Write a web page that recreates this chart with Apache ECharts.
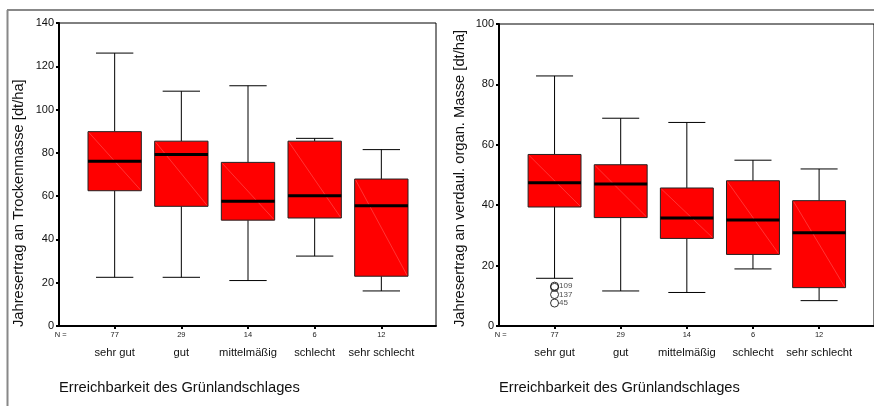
<!DOCTYPE html>
<html><head><meta charset="utf-8">
<script src="https://cdn.jsdelivr.net/npm/echarts@6/dist/echarts.min.js"></script>
<style>html,body{margin:0;padding:0;background:#fff}#c{width:874px;height:406px}</style>
</head><body><div id="c"></div>
<script>
const categories = ['sehr gut', 'gut', 'mittelmäßig', 'schlecht', 'sehr schlecht'];
const nCounts = [77, 29, 14, 6, 12];
// each: [low whisker, Q1, median, Q3, high whisker]
const dryMatter = [
  [22.5, 62.5, 76.1, 89.8, 126.1],
  [22.5, 55.3, 79.2, 85.4, 108.5],
  [21.0, 48.9, 57.6, 75.6, 111.0],
  [32.3, 49.9, 60.2, 85.4, 86.7],
  [16.2, 23.0, 55.6, 67.9, 81.5]
];
const digestible = [
  [15.8, 39.4, 47.4, 56.8, 82.8],
  [11.6, 35.9, 47.0, 53.4, 68.8],
  [11.1, 29.0, 35.8, 45.7, 67.4],
  [18.9, 23.7, 35.1, 48.1, 54.9],
  [8.4, 12.7, 30.9, 41.5, 52.0]
];
// [category position, value, case label]
const digestibleOutliers = [[1, 13.2, '109'], [1, 12.8, ''], [1, 10.4, '137'], [1, 7.6, '45']];
const leftTicks = [0, 20, 40, 60, 80, 100, 120, 140];
const rightTicks = [0, 20, 40, 60, 80, 100];
const titleLeftY = 'Jahresertrag an Trockenmasse [dt/ha]';
const titleRightY = 'Jahresertrag an verdaul. organ. Masse [dt/ha]';
const titleX = 'Erreichbarkeit des Grünlandschlages';

const FONT = '"Liberation Sans", Arial, sans-serif';

function renderBox(params, api) {
  const x = api.value(0);
  const lo = api.value(1), q1 = api.value(2), med = api.value(3), q3 = api.value(4), hi = api.value(5);
  const bw = 0.40, cw = 0.28;
  const p = (a, b) => api.coord([a, b]);
  const tl = p(x - bw, q3), br = p(x + bw, q1);
  const cHi = p(x, hi), cLo = p(x, lo), cQ3 = p(x, q3), cQ1 = p(x, q1);
  const capL = p(x - cw, hi), capR = p(x + cw, hi);
  const capL2 = p(x - cw, lo), capR2 = p(x + cw, lo);
  const mL = p(x - bw, med), mR = p(x + bw, med);
  const ls = {stroke: '#000', lineWidth: 1};
  return {
    type: 'group',
    children: [
      {type: 'line', shape: {x1: cHi[0], y1: cHi[1], x2: cQ3[0], y2: cQ3[1]}, style: ls},
      {type: 'line', shape: {x1: cLo[0], y1: cLo[1], x2: cQ1[0], y2: cQ1[1]}, style: ls},
      {type: 'line', shape: {x1: capL[0], y1: capL[1], x2: capR[0], y2: capR[1]}, style: ls},
      {type: 'line', shape: {x1: capL2[0], y1: capL2[1], x2: capR2[0], y2: capR2[1]}, style: ls},
      {type: 'rect', shape: {x: tl[0], y: tl[1], width: br[0] - tl[0], height: br[1] - tl[1]},
        style: {fill: '#ff0000', stroke: '#222', lineWidth: 1}},
      {type: 'line', shape: {x1: tl[0] + 1, y1: tl[1] + 1, x2: br[0] - 1, y2: br[1] - 1},
        style: {stroke: 'rgba(255,175,175,0.6)', lineWidth: 0.5}},
      {type: 'line', shape: {x1: mL[0], y1: mL[1], x2: mR[0], y2: mR[1]}, style: {stroke: '#000', lineWidth: 3}}
    ]
  };
}

function xAxisCfg(gridIndex, min, max) {
  return {
    type: 'value', gridIndex, min, max,
    splitLine: {show: false},
    axisLine: {onZero: false, lineStyle: {color: '#000', width: 2}},
    axisTick: {show: true, customValues: [1, 2, 3, 4, 5], length: 3, lineStyle: {color: '#000', width: 2}},
    axisLabel: {
      customValues: [min + 0.025, 1, 2, 3, 4, 5],
      margin: 4,
      formatter: v => v < 0.5 ? '{n|N =}' : '{n|' + nCounts[Math.round(v) - 1] + '}\n{c|' + categories[Math.round(v) - 1] + '}',
      rich: {
        n: {fontSize: 7.5, lineHeight: 10, fontFamily: FONT, color: '#222'},
        c: {fontSize: 11.2, lineHeight: 26, fontFamily: FONT, color: '#111'}
      }
    }
  };
}
function yAxisCfg(gridIndex, ticks) {
  return {
    type: 'value', gridIndex, min: ticks[0], max: ticks[ticks.length - 1], interval: ticks[1] - ticks[0],
    splitLine: {show: false},
    axisLine: {show: true, onZero: false, lineStyle: {color: '#000', width: 2}},
    axisTick: {show: true, length: 3, lineStyle: {color: '#000', width: 2}},
    axisLabel: {margin: 5, fontSize: 11, fontFamily: FONT, color: '#111'}
  };
}

const chart = echarts.init(document.getElementById('c'), null, {renderer: 'canvas'});
const textStyle = (t, x, y, rot) => ({
  type: 'text', x, y, rotation: rot || 0, silent: true,
  style: {text: t, font: '14.7px ' + FONT, fill: '#111', textAlign: 'left', textVerticalAlign: 'middle', align: 'left', verticalAlign: 'middle'}
});
chart.setOption({
  animation: false,
  backgroundColor: '#fff',
  grid: [
    {left: 59, top: 23, width: 377, height: 303, show: true, borderColor: '#000', borderWidth: 1},
    {left: 499, top: 24, width: 378, height: 302, show: true, borderColor: '#000', borderWidth: 1}
  ],
  xAxis: [xAxisCfg(0, 0.165, 5.82), xAxisCfg(1, 0.16, 5.83)],
  yAxis: [yAxisCfg(0, leftTicks), yAxisCfg(1, rightTicks)],
  series: [
    {type: 'custom', xAxisIndex: 0, yAxisIndex: 0, renderItem: renderBox, encode: {x: 0, y: [1, 2, 3, 4, 5]},
      data: dryMatter.map((d, i) => [i + 1].concat(d))},
    {type: 'custom', xAxisIndex: 1, yAxisIndex: 1, renderItem: renderBox, encode: {x: 0, y: [1, 2, 3, 4, 5]},
      data: digestible.map((d, i) => [i + 1].concat(d))},
    {type: 'scatter', xAxisIndex: 1, yAxisIndex: 1, symbol: 'circle', symbolSize: 8,
      itemStyle: {color: 'rgba(255,255,255,0)', borderColor: '#000', borderWidth: 1},
      label: {show: true, position: 'right', distance: 0, fontSize: 8, fontFamily: FONT, color: '#222',
        formatter: p => p.data[2]},
      data: digestibleOutliers}
  ],
  graphic: [
    {type: 'line', silent: true, shape: {x1: 7, y1: 10, x2: 874, y2: 10}, style: {stroke: '#888', lineWidth: 2}},
    {type: 'line', silent: true, shape: {x1: 7.5, y1: 10, x2: 7.5, y2: 406}, style: {stroke: '#888', lineWidth: 2}},
    textStyle(titleLeftY, 19, 327, Math.PI / 2),
    textStyle(titleRightY, 460, 327, Math.PI / 2),
    textStyle(titleX, 59, 388),
    textStyle(titleX, 499, 388)
  ]
});
</script></body></html>
